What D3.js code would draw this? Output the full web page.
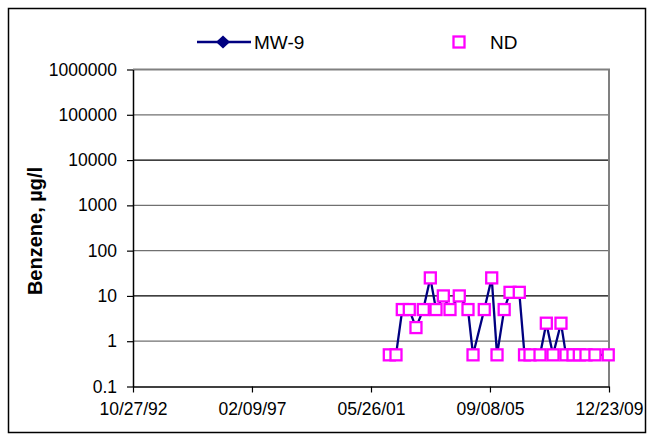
<!DOCTYPE html>
<html lang="en">
	<head>
		<meta charset="utf-8">
		<title>D3: Benzene MW-9</title>
		<script type="text/javascript" src="https://cdn.jsdelivr.net/npm/d3@7"></script>
		<style type="text/css">
		body {
			margin: 0;
			background: #fff;
		}
		text {
			font-family: Arial, "Liberation Sans", sans-serif;
		}
		</style>
	</head>
	<body>
		<script type="text/javascript">

		//Width and height
		var w = 653;
		var h = 442;

		//Sample dates
		var sampleDates = [
			"2002-01-22", "2002-04-20", "2002-07-12", "2002-10-12", "2003-01-08",
			"2003-04-14", "2003-07-16", "2003-09-29", "2004-01-03", "2004-03-31",
			"2004-07-31", "2004-11-23", "2005-01-28", "2005-06-25", "2005-10-01",
			"2005-12-10", "2006-03-14", "2006-05-30", "2006-09-29", "2006-12-07",
			"2007-02-17", "2007-06-29", "2007-09-20", "2007-12-17", "2008-03-31",
			"2008-06-05", "2008-09-05", "2008-11-27", "2009-02-23", "2009-06-21",
			"2009-12-13"
		];

		//MW-9 benzene, ug/l
		var mw9Values = [
			0.5, 0.5, 5, 5, 2,
			5, 25, 5, 10, 5,
			10, 5, 0.5, 5, 25,
			0.5, 5, 12, 12, 0.5,
			0.5, 0.5, 2.5, 0.5, 2.5,
			0.5, 0.5, 0.5, 0.5, 0.5,
			0.5
		];

		//ND markers (same samples)
		var ndValues = mw9Values.slice();

		var xTickLabels = ["10/27/92", "02/09/97", "05/26/01", "09/08/05", "12/23/09"];
		var yTickValues = [0.1, 1, 10, 100, 1000, 10000, 100000, 1000000];

		var parseDate = d3.timeParse("%m/%d/%y");
		var parseIso = d3.timeParse("%Y-%m-%d");

		var xTicks = xTickLabels.map(function(s) { return parseDate(s); });

		var data = sampleDates.map(function(s, i) {
			return { date: parseIso(s), mw9: mw9Values[i], nd: ndValues[i] };
		});

		//plot area
		var pLeft = 133, pRight = 609, pTop = 69.5, pBottom = 386.5;

		var svg = d3.select("body")
					.append("svg")
					.attr("width", w)
					.attr("height", h);

		//outer chart border
		svg.append("rect")
			.attr("x", 8.5)
			.attr("y", 8.5)
			.attr("width", 637)
			.attr("height", 424)
			.style("fill", "#fff")
			.style("stroke", "#000")
			.style("stroke-width", 1.5);

		var xScale = d3.scaleTime()
				.domain([xTicks[0], xTicks[xTicks.length - 1]])
				.range([pLeft, pRight]);

		var yScale = d3.scaleLog()
				.domain([0.1, 1000000])
				.range([pBottom, pTop]);

		//gridlines
		svg.selectAll("line.grid")
			.data(yTickValues.slice(1, -1))
			.enter()
			.append("line")
			.attr("class", "grid")
			.attr("x1", pLeft)
			.attr("x2", pRight)
			.attr("y1", function(d) { return yScale(d); })
			.attr("y2", function(d) { return yScale(d); })
			.style("stroke", function(d, i) { return i % 3 == 1 ? "#000" : "#707070"; })
			.style("stroke-width", 1.3);

		//top and right frame of the plot area
		svg.append("path")
			.attr("d", "M" + pLeft + "," + pTop + "H" + pRight + "V" + pBottom)
			.style("fill", "none")
			.style("stroke", "#808080")
			.style("stroke-width", 2);

		//x axis
		var xAxis = d3.axisBottom(xScale)
				.tickValues(xTicks)
				.tickFormat(function(d, i) { return xTickLabels[i]; })
				.tickSize(6)
				.tickSizeOuter(0);

		var gx = svg.append("g")
			.attr("transform", "translate(0," + pBottom + ")")
			.call(xAxis);
		gx.select(".domain").style("stroke", "#000").style("stroke-width", 1.5);
		gx.selectAll(".tick line").style("stroke", "#000").style("stroke-width", 1.2);
		gx.selectAll(".tick text")
			.attr("y", 16)
			.style("font-family", "Arial, 'Liberation Sans', sans-serif")
			.style("font-size", "17.5px")
			.style("fill", "#000");

		//y axis
		var yAxis = d3.axisLeft(yScale)
				.tickValues(yTickValues)
				.tickFormat(function(d) { return d < 1 ? d3.format(".1f")(d) : d3.format("d")(d); })
				.tickSize(6)
				.tickSizeOuter(0);

		var gy = svg.append("g")
			.attr("transform", "translate(" + pLeft + ",0)")
			.call(yAxis);
		gy.select(".domain").style("stroke", "#000").style("stroke-width", 1.5);
		gy.selectAll(".tick line").style("stroke", "#000").style("stroke-width", 1.2);
		gy.selectAll(".tick text")
			.attr("x", -16)
			.style("font-family", "Arial, 'Liberation Sans', sans-serif")
			.style("font-size", "17.5px")
			.style("fill", "#000");

		//y title
		svg.append("text")
			.attr("transform", "translate(42,231) rotate(-90)")
			.attr("text-anchor", "middle")
			.style("font-size", "20px")
			.style("font-weight", "bold")
			.text("Benzene, µg/l");

		//MW-9 line
		var line = d3.line()
				.x(function(d) { return xScale(d.date); })
				.y(function(d) { return yScale(d.mw9); });

		svg.append("path")
			.datum(data)
			.attr("d", line)
			.style("fill", "none")
			.style("stroke", "#000080")
			.style("stroke-width", 2.3)
			.style("stroke-linejoin", "round");

		//ND squares
		var s = 11;
		svg.selectAll("rect.nd")
			.data(data)
			.enter()
			.append("rect")
			.attr("class", "nd")
			.attr("x", function(d) { return xScale(d.date) - s / 2; })
			.attr("y", function(d) { return yScale(d.nd) - s / 2; })
			.attr("width", s)
			.attr("height", s)
			.style("fill", "#fff")
			.style("stroke", "#ff00ff")
			.style("stroke-width", 2.3);

		//legend
		var legend = svg.append("g");
		legend.append("line")
			.attr("x1", 197).attr("x2", 251)
			.attr("y1", 42).attr("y2", 42)
			.style("stroke", "#000080")
			.style("stroke-width", 2.3);
		legend.append("path")
			.attr("d", "M0,-6.5L7,0L0,6.5L-7,0Z")
			.attr("transform", "translate(223,42)")
			.style("fill", "#000080");
		legend.append("text")
			.attr("x", 254)
			.attr("y", 49)
			.style("font-size", "19px")
			.text("MW-9");
		legend.append("rect")
			.attr("x", 453.5).attr("y", 36.5)
			.attr("width", 11).attr("height", 11)
			.style("fill", "#fff")
			.style("stroke", "#ff00ff")
			.style("stroke-width", 2.3);
		legend.append("text")
			.attr("x", 490)
			.attr("y", 49)
			.style("font-size", "19px")
			.text("ND");

		</script>
	</body>
</html>
